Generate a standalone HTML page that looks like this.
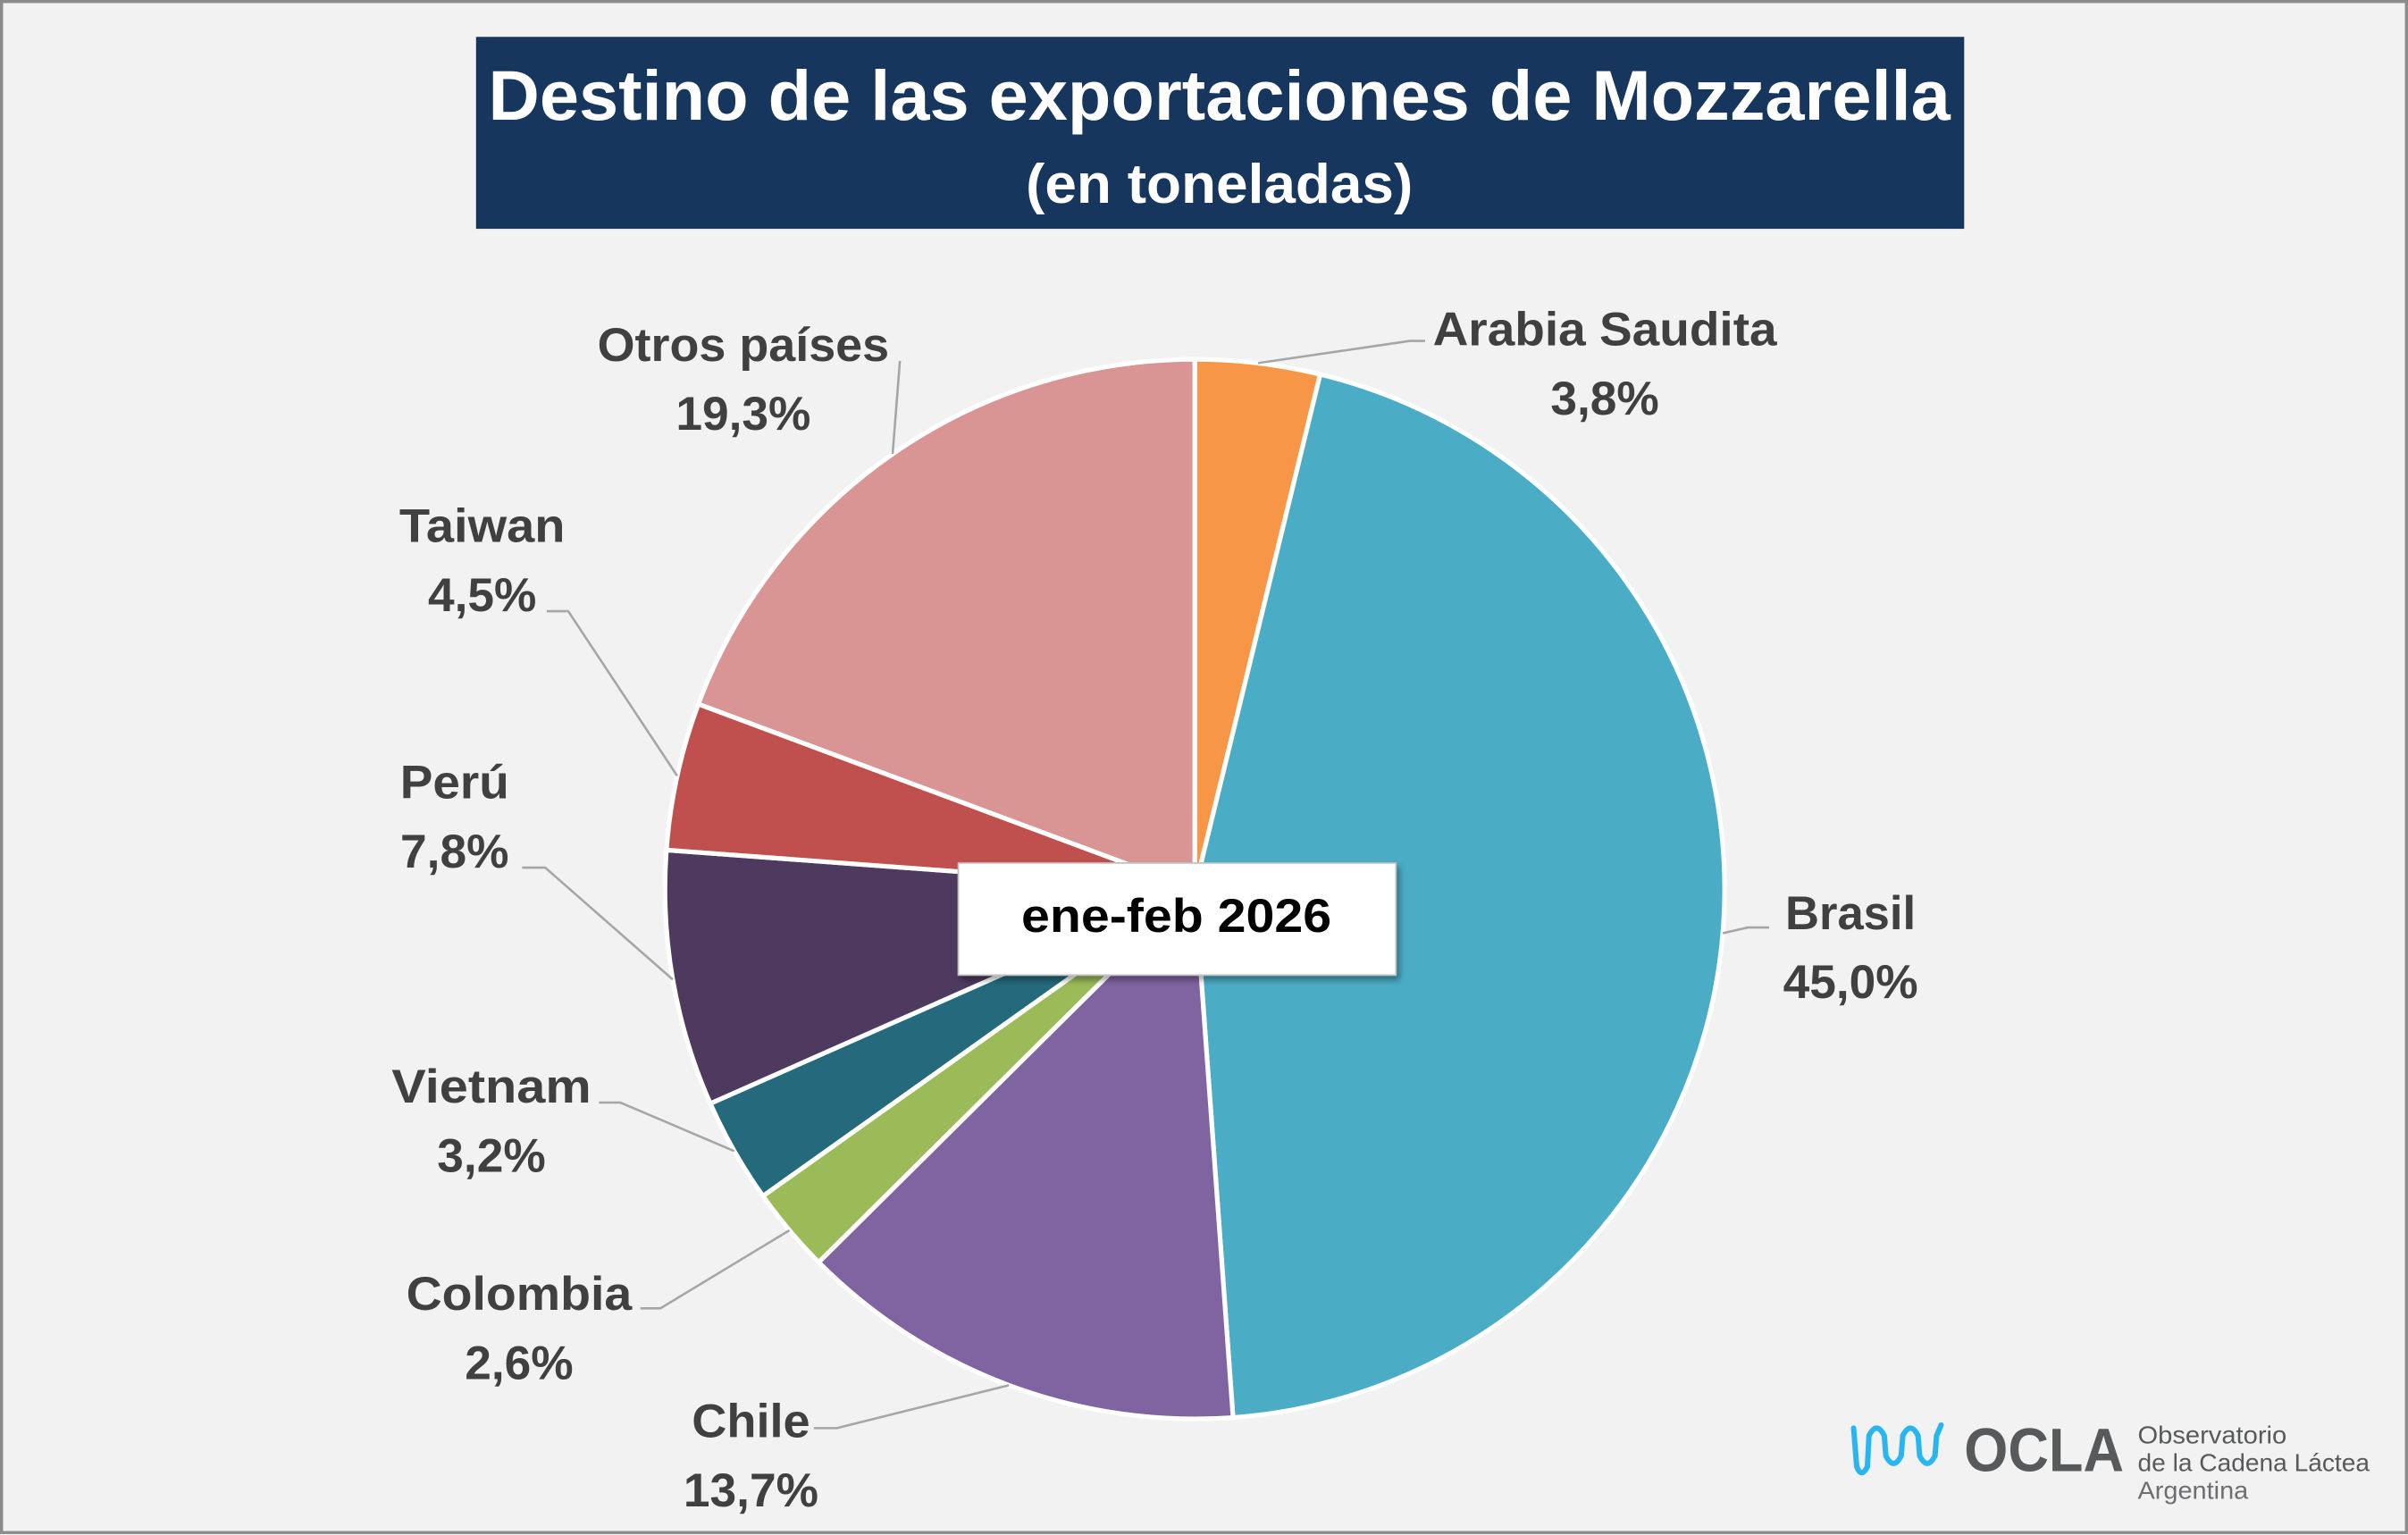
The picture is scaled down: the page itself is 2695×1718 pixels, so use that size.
<!DOCTYPE html>
<html><head><meta charset="utf-8"><style>
html,body{margin:0;padding:0;background:#F2F2F2;}
svg{display:block;font-family:"Liberation Sans",sans-serif;}
</style></head><body>
<svg id="chart" width="2695" height="1718" viewBox="0 0 1568 999.6" preserveAspectRatio="none" xmlns="http://www.w3.org/2000/svg">
<defs><filter id="sh" x="-10%" y="-10%" width="130%" height="140%"><feDropShadow dx="2" dy="3" stdDeviation="2" flood-color="#000" flood-opacity="0.35"/></filter></defs>
<rect x="1" y="1" width="1566" height="997" fill="#F2F2F2" stroke="#8C8C8C" stroke-width="2"/>
<g>
<rect x="310" y="24" width="969" height="125" fill="#17365D"/>
<text x="794" y="78" text-anchor="middle" font-size="46" font-weight="bold" fill="#fff" textLength="952" lengthAdjust="spacingAndGlyphs">Destino de las exportaciones de Mozzarella</text>
<text x="794" y="132" text-anchor="middle" font-size="36" font-weight="bold" fill="#fff" textLength="252" lengthAdjust="spacingAndGlyphs">(en toneladas)</text>
</g>
<g id="slices"></g>
<g id="leaders"></g>
<g id="labels"></g>
<g>
<rect x="624" y="562" width="285" height="73" fill="#fff" stroke="#BFBFBF" stroke-width="1" filter="url(#sh)"/>
<text x="766" y="607" text-anchor="middle" font-size="31" font-weight="bold" fill="#000" textLength="202" lengthAdjust="spacingAndGlyphs">ene-feb 2026</text>
</g>
<g>
<path d="M1207 930 L1209 955 Q1212 963 1216 955 L1217 935 Q1222 925 1227 935 L1228 948 Q1233 958 1238 948 L1239 935 Q1244 925 1249 935 L1250 948 Q1255 958 1260 948 L1261 935 L1264 928" fill="none" stroke="#29B6F0" stroke-width="3.5" stroke-linecap="round"/>
<text x="1279" y="958" font-size="40" font-weight="bold" fill="#58595B" textLength="104" lengthAdjust="spacingAndGlyphs">OCLA</text>
<text x="1392" y="940" font-size="16" fill="#58595B" textLength="97" lengthAdjust="spacingAndGlyphs">Observatorio</text>
<text x="1392" y="958" font-size="16" fill="#58595B" textLength="151" lengthAdjust="spacingAndGlyphs">de la Cadena Láctea</text>
<text x="1392" y="976" font-size="16" fill="#6d6e70" textLength="72" lengthAdjust="spacingAndGlyphs">Argentina</text>
</g>
</svg>
<script>
const categories = ["Arabia Saudita","Brasil","Chile","Colombia","Vietnam","Perú","Taiwan","Otros países"];
const values = [3.8,45.0,13.7,2.6,3.2,7.8,4.5,19.3];
const valueLabels = ["3,8%","45,0%","13,7%","2,6%","3,2%","7,8%","4,5%","19,3%"];
const colors = ["#F79646","#4BACC6","#8064A2","#9BBB59","#246A7C","#4F3A5F","#C0504D","#D99594"];
// label layout: [x center, name baseline, name width]
const labelPos = [[1045,225,224],[1205,605,85],[489,936,77],[338,853,147],[320,718,130],[296,520,71],[314,353,108],[484,235,190]];
const elbows = [[918,222,928],[1138,604,1152],[545,930,530],[430,852,417],[404,718,390],[355,565,340],[370,398,356],[586,235,586]];

const NS="http://www.w3.org/2000/svg";
const cx=778, cy=579, r=345;
const total=values.reduce((a,b)=>a+b,0);
function pt(a,rad){return [cx+rad*Math.sin(a), cy-rad*Math.cos(a)];}
let acc=0;
const gS=document.getElementById('slices'), gL=document.getElementById('leaders'), gT=document.getElementById('labels');
values.forEach((v,i)=>{
  const a0=acc/total*2*Math.PI; acc+=v; const a1=acc/total*2*Math.PI;
  const p0=pt(a0,r), p1=pt(a1,r);
  const large=(a1-a0)>Math.PI?1:0;
  const p=document.createElementNS(NS,'path');
  p.setAttribute('d',`M${cx},${cy} L${p0[0]},${p0[1]} A${r},${r} 0 ${large} 1 ${p1[0]},${p1[1]} Z`);
  p.setAttribute('fill',colors[i]); p.setAttribute('stroke','#fff'); p.setAttribute('stroke-width','3');
  
  
  gS.appendChild(p);
  const am=(a0+a1)/2, e=pt(am,r), el=elbows[i];
  const l=document.createElementNS(NS,'polyline');
  l.setAttribute('points',`${e[0]},${e[1]} ${el[0]},${el[1]} ${el[2]},${el[1]}`);
  l.setAttribute('fill','none'); l.setAttribute('stroke','#A6A6A6'); l.setAttribute('stroke-width','1.5');
  
  
  gL.appendChild(l);
  const lp=labelPos[i];
  const t1=document.createElementNS(NS,'text');
  t1.setAttribute('x',lp[0]); t1.setAttribute('y',lp[1]); t1.setAttribute('text-anchor','middle');
  t1.setAttribute('font-size','31'); t1.setAttribute('font-weight','bold'); t1.setAttribute('fill','#404040');
  t1.setAttribute('textLength',lp[2]); t1.setAttribute('lengthAdjust','spacingAndGlyphs');
  t1.textContent=categories[i];
  
  
  gT.appendChild(t1);
  const t2=document.createElementNS(NS,'text');
  t2.setAttribute('x',lp[0]); t2.setAttribute('y',lp[1]+45); t2.setAttribute('text-anchor','middle');
  t2.setAttribute('font-size','31'); t2.setAttribute('font-weight','bold'); t2.setAttribute('fill','#404040');
  t2.textContent=valueLabels[i];
  
  
  gT.appendChild(t2);
});
</script>
</body></html>
